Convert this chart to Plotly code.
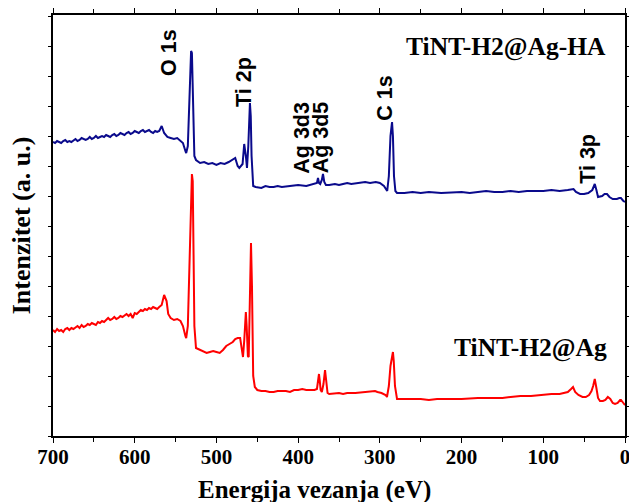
import plotly.graph_objects as go

# Binding energy (eV) and intensity (a.u.)
energy_ha = [700, 697.5, 695, 692.5, 690, 687.5, 685, 682.5, 680, 677.5, 675, 672.5, 670, 667.5, 665, 662.5, 660,
             657.5, 655, 652.5, 650, 647.5, 645, 642.5, 640, 637.5, 635, 632.5, 630, 627.5, 625, 622.5, 620, 617.5,
             615, 612.5, 610, 607.5, 605, 602.5, 600, 597.5, 595, 592.5, 590, 587.5, 585, 582.5, 580, 577.5, 575,
             572.5, 570, 567, 564, 560, 556, 552, 548, 544, 541, 538, 537, 535, 533, 531,
             530, 529, 528, 527, 525, 520, 515, 510, 505, 500, 495, 490, 485, 480, 477, 474, 472, 468, 466, 464,
             462.6, 461, 459, 458, 457, 455, 452, 445, 440, 435, 430, 425, 420, 410, 400, 390, 385, 380, 377, 375.7,
             374.5, 373, 371, 369.6, 368, 366, 362, 355, 350, 345, 340, 335, 325, 318, 312, 305, 300, 295, 291, 289,
             287, 285.1, 284, 282.7, 281, 279, 270, 260, 250, 240, 225, 210, 200, 190, 180, 170, 160, 150, 140, 130,
             120, 110, 100, 90, 80, 70, 66, 63, 60, 55, 50, 45, 40, 37, 35, 33, 28, 25, 22, 19,
             15, 10, 7, 5, 2, 0]
intensity_ha = [294, 293, 295, 294, 293, 295, 296, 294, 295, 294, 296, 297, 295, 296, 298, 297, 296,
                297, 299, 297, 298, 300, 298, 299, 300, 299, 301, 300, 299, 301, 302, 300, 301, 303,
                302, 301, 303, 304, 302, 303, 305, 304, 303, 305, 306, 304, 305, 306, 304, 303, 305,
                304, 305, 310, 303, 299, 298, 297, 298, 295, 293, 285, 283, 290, 330, 385,
                383, 340, 290, 280, 276, 273, 274, 272, 273, 271, 273, 272, 274, 276, 278, 270, 268, 272, 292, 280,
                268, 290, 333, 320, 280, 250, 249, 248, 250, 249, 249, 250, 249, 250, 251, 250, 251, 252, 253, 258,
                253, 252, 256, 262, 254, 251, 251, 252, 251, 252, 253, 252, 253, 254, 253, 254, 253, 250, 245, 260,
                300, 314, 300, 260, 245, 243, 243, 244, 243, 244, 243, 244, 244, 243, 244, 245, 244, 244, 245, 244,
                245, 245, 245, 246, 245, 246, 247, 247, 244, 242, 242, 243, 246, 252, 246, 239, 240, 242, 242, 239,
                237, 237, 238, 238, 235, 234]

energy_ag = [700, 697.5, 695, 692.5, 690, 687.5, 685, 682.5, 680, 677.5, 675, 672.5, 670, 667.5, 665, 662.5, 660,
             657.5, 655, 652.5, 650, 647.5, 645, 642.5, 640, 637.5, 635, 632.5, 630, 627.5, 625, 622.5, 620, 617.5,
             615, 612.5, 610, 607.5, 605, 602.5, 600, 597.5, 595, 592.5, 590, 587.5, 585, 582.5, 580, 577.5, 575,
             572.5, 570, 567, 564, 561, 559, 556, 552, 548, 544, 541, 538, 537, 535, 533,
             531, 530, 529, 528, 527, 525, 520, 515, 512, 508, 504, 500, 496, 492, 488, 484, 480, 477, 474, 471,
             468, 467.5, 466, 464, 463, 461.5, 460.5, 459, 457.7, 456.5, 455, 453, 450, 445, 440, 435, 430, 425, 420, 415,
             410, 405, 400, 395, 390, 385, 380, 377, 375.7, 374.5, 373.5, 372.5, 371, 369, 367.1, 366, 364, 362, 355, 350,
             345, 340, 330, 320, 313, 308, 305.9, 303, 298, 293, 291.3, 289, 287, 284, 283, 281.5, 279, 275, 260, 250,
             240, 230, 220, 210, 200, 180, 160, 150, 140, 128, 115, 104, 90, 80, 76, 70, 66, 63.6, 61, 57,
             52, 48, 44, 41, 39, 37, 35, 33, 30.6, 27, 24, 21, 18, 15, 12.2, 9, 6, 4.9, 2, 0]
intensity_ag = [106, 104, 107, 105, 106, 104, 107, 108, 106, 108, 107, 109, 110, 108, 111, 109, 110,
                112, 111, 113, 112, 111, 114, 113, 115, 114, 116, 118, 116, 117, 119, 117, 118, 120,
                119, 121, 122, 120, 122, 118, 123, 122, 124, 126, 125, 127, 126, 128, 127, 129, 128,
                127, 129, 131, 141, 135, 122, 118, 116, 117, 115, 110, 100, 98, 110, 180,
                250, 262, 255, 180, 110, 88, 86, 84, 83, 84, 85, 84, 83, 86, 90, 92, 94, 97, 98, 98,
                85, 79, 95, 124, 110, 80, 79, 150, 193, 150, 60, 49, 46, 45, 45, 44, 44, 45, 45, 45,
                44, 46, 46, 47, 46, 46, 46, 47, 55, 62, 55, 46, 44, 52, 66, 55, 43, 42, 43, 43,
                42, 43, 43, 44, 44, 45, 45, 44, 43, 41, 39, 50, 70, 84, 75, 50, 37, 37, 37, 37,
                36, 37, 37, 37, 37, 38, 38, 38, 39, 40, 40, 41, 42, 42, 43, 44, 47, 49, 44, 41,
                39, 39, 41, 45, 50, 57, 48, 38, 35, 35, 36, 39, 37, 33, 32, 33, 36, 36, 33, 31]

x_ticks = [700, 600, 500, 400, 300, 200, 100, 0]

peak_labels = ["O 1s", "Ti 2p", "Ag 3d3", "Ag 3d5", "C 1s", "Ti 3p"]
peak_pos = [(0.203, 0.910), (0.334, 0.841), (0.435, 0.708), (0.469, 0.710), (0.580, 0.803), (0.935, 0.658)]

fig = go.Figure()
fig.add_trace(go.Scatter(x=energy_ha, y=intensity_ha, mode="lines",
                         line=dict(color="#0a0a8c", width=2), name="TiNT-H2@Ag-HA"))
fig.add_trace(go.Scatter(x=energy_ag, y=intensity_ag, mode="lines",
                         line=dict(color="#ff0000", width=2), name="TiNT-H2@Ag"))

annotations = []
for txt, (px, py) in zip(peak_labels, peak_pos):
    annotations.append(dict(text=txt, x=px, y=py, xref="paper", yref="paper", showarrow=False,
                            textangle=-90, xanchor="center", yanchor="middle",
                            font=dict(family="Liberation Sans", size=21.5, color="black", weight="bold")))
annotations.append(dict(text="TiNT-H2@Ag-HA", x=0.792, y=0.924, xref="paper", yref="paper", showarrow=False,
                        xanchor="center", yanchor="middle",
                        font=dict(family="Liberation Serif", size=25.5, color="black", weight="bold")))
annotations.append(dict(text="TiNT-H2@Ag", x=0.834, y=0.211, xref="paper", yref="paper", showarrow=False,
                        xanchor="center", yanchor="middle",
                        font=dict(family="Liberation Serif", size=25.5, color="black", weight="bold")))
# x-axis title (centred on the whole figure, as in the reference)
annotations.append(dict(text="Energija vezanja (eV)", x=0.458, y=-0.128, xref="paper", yref="paper",
                        showarrow=False, xanchor="center", yanchor="middle",
                        font=dict(family="Liberation Serif", size=25, color="black", weight="bold")))

fig.update_layout(
    width=629, height=502,
    margin=dict(l=53, r=4, t=15, b=66),
    paper_bgcolor="white", plot_bgcolor="white",
    showlegend=False,
    annotations=annotations,
    xaxis=dict(range=[700, 0], tickvals=x_ticks, ticktext=[str(v) for v in x_ticks],
               automargin=False, ticklabeloverflow="allow", ticklabelstandoff=-4,
               showline=True, linecolor="black", linewidth=1.5, mirror="ticks",
               ticks="outside", ticklen=5, tickwidth=1, tickcolor="black",
               minor=dict(dtick=50, ticks="outside", ticklen=4, tickcolor="black"),
               showgrid=False, zeroline=False,
               tickfont=dict(family="Liberation Serif", size=21, color="black", weight="bold")),
    yaxis=dict(range=[0, 421], dtick=30, showticklabels=False, automargin=False,
               showline=True, linecolor="black", linewidth=1.5, mirror="ticks",
               ticks="outside", ticklen=3, tickwidth=1, tickcolor="black",
               showgrid=False, zeroline=False,
               title=dict(text="Intenzitet (a. u.)", standoff=10,
                          font=dict(family="Liberation Serif", size=26, color="black", weight="bold"))),
)

fig.write_html("out.html", config={"displayModeBar": False},
               post_script="document.body.style.margin='0';")
